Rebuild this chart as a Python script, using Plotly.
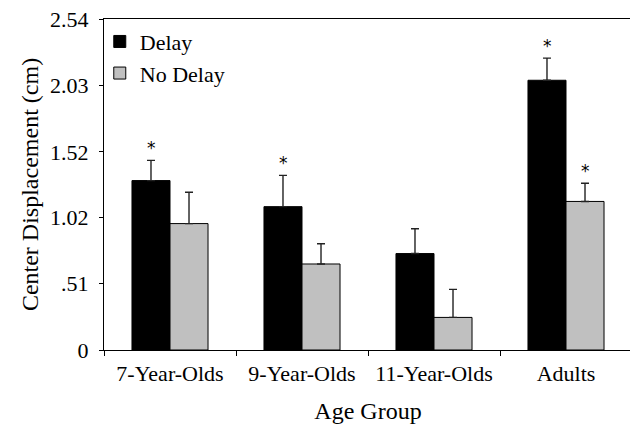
import plotly.graph_objects as go

categories = ["7-Year-Olds", "9-Year-Olds", "11-Year-Olds", "Adults"]
delay = [1.30, 1.10, 0.74, 2.07]
delay_err = [0.155, 0.24, 0.19, 0.17]
nodelay = [0.97, 0.66, 0.25, 1.14]
nodelay_err = [0.24, 0.155, 0.215, 0.14]
delay_sig = [True, True, False, True]
nodelay_sig = [False, False, False, True]
ytick_vals = [0, 0.51, 1.02, 1.52, 2.03, 2.54]
ytick_text = ["0", ".51", "1.02", "1.52", "2.03", "2.54"]

FONT = "Liberation Serif"
TICK = dict(family=FONT, size=22, color="#000")
LEG = dict(family=FONT, size=22, color="#000")
TITLE = dict(family=FONT, size=24, color="#000")

fig = go.Figure()
fig.add_bar(
    name="Delay", x=categories, y=delay,
    marker=dict(color="#000000", line=dict(color="#000000", width=1)),
    error_y=dict(type="data", symmetric=False, array=delay_err,
                 arrayminus=[0] * len(delay), color="#222222",
                 thickness=1.4, width=4),
)
fig.add_bar(
    name="No Delay", x=categories, y=nodelay,
    marker=dict(color="#c0c0c0", line=dict(color="#000000", width=1)),
    error_y=dict(type="data", symmetric=False, array=nodelay_err,
                 arrayminus=[0] * len(nodelay), color="#222222",
                 thickness=1.4, width=4),
)

annotations = []
for c, v, e, s in zip(categories, delay, delay_err, delay_sig):
    if s:
        annotations.append(dict(x=c, y=v + e, xref="x", yref="y", text="*",
                                showarrow=False, xshift=-19, yanchor="bottom",
                                yshift=0, font=dict(family="DejaVu Sans", size=17, color="#000")))
for c, v, e, s in zip(categories, nodelay, nodelay_err, nodelay_sig):
    if s:
        annotations.append(dict(x=c, y=v + e, xref="x", yref="y", text="*",
                                showarrow=False, xshift=19, yanchor="bottom",
                                yshift=0, font=dict(family="DejaVu Sans", size=17, color="#000")))

fig.update_layout(
    width=630, height=417,
    margin=dict(l=96, r=6, t=11, b=75),
    paper_bgcolor="white", plot_bgcolor="white",
    font=TICK,
    barmode="group", bargap=0.424, bargroupgap=0,
    showlegend=True,
    legend=dict(x=-0.008, y=0.995, xanchor="left", yanchor="top",
                bgcolor="rgba(0,0,0,0)", font=LEG,
                itemwidth=30, tracegroupgap=0),
    annotations=annotations,
)
fig.update_xaxes(
    automargin=False, ticklabeloverflow="allow", ticklabelstandoff=4,
    showline=True, linecolor="#000", linewidth=1, mirror=True,
    ticks="outside", ticklen=5, tickcolor="#000", tickson="boundaries",
    showgrid=False, tickfont=TICK,
    title=dict(text="Age Group", standoff=16, font=TITLE),
)
fig.update_yaxes(
    automargin=False, ticklabeloverflow="allow", ticklabelstandoff=6,
    range=[0, 2.54], tickvals=ytick_vals, ticktext=ytick_text,
    showline=True, linecolor="#000", linewidth=1, mirror=True,
    ticks="outside", ticklen=4, tickcolor="#000",
    showgrid=False, zeroline=False, tickfont=TICK,
    title=dict(text="Center Displacement (cm)", standoff=4, font=TITLE),
)

fig.write_html("out.html")
